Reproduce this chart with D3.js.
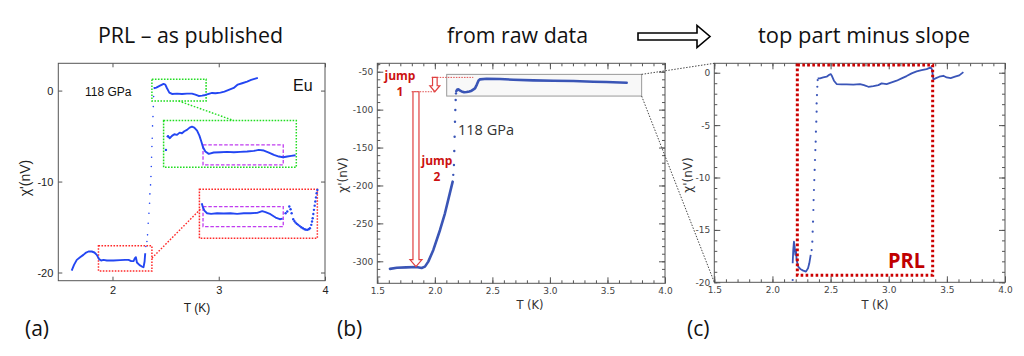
<!DOCTYPE html>
<html><head><meta charset="utf-8">
<script src="https://cdn.jsdelivr.net/npm/d3@7"></script>
<style>body{margin:0;background:#fff}svg{display:block}</style>
</head><body>
<script>
// ---------------- DATA ----------------
// Panel (a): PRL as published  [T (K), chi' (nV)]
const aLow = [[1.616,-19.78],[1.638,-19.16],[1.664,-18.61],[1.695,-18.32],[1.726,-18.06],[1.752,-17.80],[1.774,-17.69],[1.805,-17.69],[1.830,-17.80],[1.852,-18.06],[1.874,-18.53],[1.893,-18.68],[1.915,-18.61],[1.947,-18.68],[2.009,-18.68],[2.072,-18.64],[2.119,-18.61],[2.151,-18.61],[2.176,-18.75],[2.198,-18.75],[2.211,-18.42],[2.220,-18.32],[2.230,-18.90],[2.255,-19.19],[2.277,-19.34],[2.292,-19.41],[2.302,-18.79],[2.308,-17.88]];
const aJump = [[2.314,-17.14],[2.324,-16.59],[2.330,-15.86],[2.336,-14.58],[2.343,-13.48],[2.349,-12.38],[2.352,-11.36],[2.358,-10.37],[2.362,-9.45],[2.365,-8.35],[2.368,-7.33],[2.371,-6.15],[2.374,-5.24],[2.377,-3.88],[2.381,-2.86],[2.384,-1.76],[2.387,-0.66]];
const aHigh = [[2.387,0.26],[2.412,0.33],[2.443,0.51],[2.481,0.73],[2.497,0.66],[2.513,0.26],[2.535,-0.22],[2.560,-0.37],[2.607,-0.33],[2.654,-0.37],[2.701,-0.33],[2.748,-0.33],[2.780,-0.44],[2.811,-0.59],[2.843,-0.55],[2.874,-0.48],[2.906,-0.37],[2.937,-0.26],[2.969,-0.29],[3.016,-0.22],[3.053,-0.11],[3.094,0.07],[3.141,0.29],[3.179,0.66],[3.220,0.81],[3.267,0.99],[3.305,1.17],[3.336,1.28],[3.368,1.39]];
const aInsetGreen = [[2.513,-5.13],[2.522,-4.98],[2.538,-5.24],[2.560,-4.98],[2.582,-4.80],[2.607,-4.87],[2.632,-4.62],[2.654,-4.69],[2.676,-4.47],[2.701,-4.32],[2.726,-4.07],[2.748,-3.96],[2.770,-4.07],[2.796,-4.40],[2.818,-4.95],[2.836,-5.60],[2.852,-6.23],[2.874,-6.70],[2.906,-6.96],[2.953,-6.81],[3.016,-6.78],[3.079,-6.74],[3.142,-6.78],[3.204,-6.74],[3.267,-6.70],[3.330,-6.63],[3.377,-6.52],[3.425,-6.59],[3.472,-6.81],[3.519,-7.07],[3.566,-7.25],[3.607,-7.33],[3.645,-7.25],[3.682,-7.18],[3.723,-7.11]];
const aInsetGreenDots = [[2.503,-6.52]];
const aInsetRed = [[2.840,-12.38],[2.849,-12.75],[2.865,-13.19],[2.890,-13.48],[2.928,-13.55],[2.984,-13.48],[3.047,-13.52],[3.110,-13.48],[3.173,-13.55],[3.236,-13.48],[3.299,-13.48],[3.362,-13.44],[3.409,-13.26],[3.440,-13.37],[3.487,-13.59],[3.535,-13.96],[3.575,-14.14],[3.601,-14.07]];
const aInsetRedDots = [[3.629,-13.48],[3.645,-13.30],[3.664,-12.75],[3.676,-13.04],[3.686,-13.48],[3.701,-14.14],[3.712,-14.35],[3.723,-14.51],[3.735,-14.65],[3.748,-14.76],[3.762,-14.90],[3.777,-15.02],[3.792,-15.13],[3.808,-15.24],[3.820,-15.29],[3.833,-15.31],[3.846,-15.24],[3.858,-15.13],[3.871,-14.76],[3.878,-14.40],[3.884,-14.03],[3.890,-13.57],[3.896,-13.11],[3.903,-12.65],[3.909,-12.20],[3.915,-11.74],[3.921,-11.28],[3.928,-10.92]];
// boxes in (a): [T0, T1, chiTop, chiBottom]
const aBoxesGreen = [[2.371,2.881,1.25,-1.14],[2.481,3.730,-3.30,-8.42]];
const aBoxesRed = [[1.868,2.371,-17.07,-19.82],[2.818,3.928,-10.84,-16.23]];
const aBoxesMagenta = [[2.852,3.607,-5.97,-8.17],[2.852,3.607,-12.75,-14.95]];
const aLinkGreen = [[2.623,-1.14],[3.142,-3.30]];
const aLinkRed = [[2.371,-18.42],[2.827,-13.04]];
const aXTicks = [2,3,4];
const aYTicks = [0,-10,-20];

// Panel (b): raw data
const bLow = [[1.61,-310],[1.67,-308.5],[1.75,-308],[1.84,-307.5],[1.885,-308.8],[1.914,-307],[1.943,-300.4],[1.987,-285],[2.045,-258.7],[2.088,-236.7],[2.13,-210.4],[2.155,-195]];
const bJump = [[2.16,-186],[2.166,-173],[2.169,-154.6],[2.172,-135.7],[2.175,-115.9],[2.178,-100.5],[2.181,-87.3],[2.184,-78.6]];
const bHigh = [[2.187,-75.5],[2.195,-73.5],[2.204,-73.3],[2.22,-75],[2.233,-76],[2.255,-77],[2.276,-76.8],[2.30,-76],[2.32,-75],[2.349,-72],[2.365,-67],[2.38,-61.5],[2.392,-60.1],[2.45,-59.2],[2.566,-59.7],[2.682,-60.5],[2.856,-61.4],[3.03,-61.9],[3.203,-62.3],[3.377,-63.2],[3.49,-63.6],[3.667,-64.5]];
const bZoomBox = [2.103,3.797,-53.5,-82.1];
const bJump1Levels = [-57.5,-76.4];
const bJump2Bottom = -307;
const bXTicks = [1.5,2.0,2.5,3.0,3.5,4.0];
const bYTicks = [-50,-100,-150,-200,-250,-300];

// Panel (c): top part minus slope
const cLow = [[2.174,-18.19],[2.179,-16.92],[2.185,-16.12],[2.191,-16.60],[2.197,-17.39],[2.202,-16.92],[2.208,-17.87],[2.222,-18.51],[2.243,-18.76],[2.265,-18.89],[2.288,-18.98],[2.306,-18.66],[2.317,-18.19],[2.329,-17.39]];
const cJump = [[2.174,-19.78],[2.337,-16.92],[2.343,-16.12],[2.346,-15.17],[2.349,-14.21],[2.352,-13.10],[2.354,-12.15],[2.357,-11.19],[2.360,-10.24],[2.363,-9.28],[2.366,-8.33],[2.369,-7.38],[2.372,-6.58],[2.374,-5.63],[2.377,-4.67],[2.380,-3.72],[2.380,-2.93],[2.383,-2.13],[2.386,-1.34],[2.389,-0.70]];
const cHigh = [[2.389,-0.54],[2.409,-0.54],[2.437,-0.45],[2.466,-0.38],[2.489,-0.19],[2.501,-0.13],[2.512,-0.32],[2.529,-0.76],[2.552,-1.08],[2.595,-1.11],[2.638,-1.11],[2.696,-1.14],[2.753,-1.08],[2.787,-1.18],[2.825,-1.34],[2.868,-1.27],[2.911,-1.18],[2.939,-1.02],[2.982,-1.08],[3.025,-0.92],[3.068,-0.76],[3.111,-0.54],[3.154,-0.32],[3.197,-0.06],[3.240,0.13],[3.283,0.25],[3.326,0.35],[3.361,0.51],[3.372,0.32],[3.384,-0.64],[3.407,-0.51],[3.435,-0.38],[3.470,-0.29],[3.498,-0.45],[3.533,-0.51],[3.570,-0.38],[3.607,-0.25],[3.642,0.06]];
const cPrlBox = [2.214,3.378,0.73,-19.33];
const cXTicks = [1.5,2.0,2.5,3.0,3.5,4.0];
const cYTicks = [0,-5,-10,-15,-20];

const titles = ["PRL – as published","from raw data","top part minus slope"];
const panelLabels = ["(a)","(b)","(c)"];

// ---------------- DRAW ----------------
const svg = d3.select("body").append("svg").attr("width",1024).attr("height",356);
svg.append("rect").attr("width",1024).attr("height",356).attr("fill","#fff");
const TF = "'Open Sans','Noto Sans',sans-serif";

// Titles
const titleSpec = [[98,185],[447,141],[758,212]];
titles.forEach((t,i)=>{
  svg.append("text").attr("x",titleSpec[i][0]).attr("y",43).attr("font-family",TF).attr("font-size",21)
    .attr("textLength",titleSpec[i][1]).attr("lengthAdjust","spacingAndGlyphs").attr("fill","#111").text(t);
});
// hollow title arrow
svg.append("path").attr("d","M638,33 L697,33 L697,25.5 L710,36.5 L697,47.5 L697,40 L638,40 Z")
  .attr("fill","#fff").attr("stroke","#000").attr("stroke-width",1.6);
// panel letters
[[25,panelLabels[0]],[337,panelLabels[1]],[687,panelLabels[2]]].forEach(([x,t])=>{
  svg.append("text").attr("x",x).attr("y",336).attr("font-family",TF).attr("font-size",21).attr("fill","#111").text(t);
});

function line(x,y){return d3.line().x(d=>x(d[0])).y(d=>y(d[1]));}

// ===== Panel A =====
const xA = d3.scaleLinear([1.49,4.0],[58.3,325]);
const yA = d3.scaleLinear([-20.9,3.0],[280.7,63.3]);
const gA = svg.append("g");
const AF = "'Liberation Sans',Arial,sans-serif";
function styleAxisA(g){g.select(".domain").remove();g.selectAll("line").attr("stroke","#555");g.selectAll("text").attr("font-family",AF).attr("font-size",11).attr("fill","#222");}
gA.append("g").attr("transform","translate(0,280.7)").call(d3.axisBottom(xA).tickValues(aXTicks).tickFormat(d3.format("d")).tickSizeInner(-4).tickSizeOuter(0).tickPadding(6)).call(styleAxisA);
gA.append("g").attr("transform","translate(0,63.3)").call(d3.axisTop(xA).tickValues(aXTicks).tickFormat("").tickSizeInner(-4).tickSizeOuter(0)).call(styleAxisA);
gA.append("g").attr("transform","translate(58.3,0)").call(d3.axisLeft(yA).tickValues(aYTicks).tickFormat(d=>String(d)).tickSizeInner(-4).tickSizeOuter(0).tickPadding(5)).call(styleAxisA);
gA.append("g").attr("transform","translate(325,0)").call(d3.axisRight(yA).tickValues(aYTicks).tickFormat("").tickSizeInner(-4).tickSizeOuter(0)).call(styleAxisA);
gA.append("rect").attr("x",58.3).attr("y",63.3).attr("width",325-58.3).attr("height",280.7-63.3).attr("fill","none").attr("stroke","#555").attr("stroke-width",1);
gA.append("text").attr("transform","translate(30,178) rotate(-90)").attr("text-anchor","middle").attr("font-family",AF).attr("font-size",14).attr("fill","#222").text("χ'(nV)");
gA.append("text").attr("x",197).attr("y",312).attr("text-anchor","middle").attr("font-family",AF).attr("font-size",12).attr("fill","#222").text("T (K)");
gA.append("text").attr("x",85).attr("y",96).attr("font-family",AF).attr("font-size",12).attr("fill","#111").text("118 GPa");
gA.append("text").attr("x",293).attr("y",91).attr("font-family",AF).attr("font-size",16).attr("fill","#111").text("Eu");
function box(g,x,y,b,color,dash,w){
  g.append("rect").attr("x",x(b[0])).attr("y",y(b[2])).attr("width",x(b[1])-x(b[0])).attr("height",y(b[3])-y(b[2]))
   .attr("fill","none").attr("stroke",color).attr("stroke-width",w).attr("stroke-dasharray",dash);
}
aBoxesGreen.forEach(b=>box(gA,xA,yA,b,"#22dd22","1.6,1.4",1.5));
aBoxesRed.forEach(b=>box(gA,xA,yA,b,"#ff2a2a","1.6,1.4",1.5));
aBoxesMagenta.forEach(b=>box(gA,xA,yA,b,"#c03cf0","3.5,1.8",1.3));
gA.append("path").attr("d",line(xA,yA)(aLinkGreen)).attr("stroke","#22dd22").attr("stroke-width",1.4).attr("stroke-dasharray","1.6,1.6").attr("fill","none");
gA.append("path").attr("d",line(xA,yA)(aLinkRed)).attr("stroke","#ff2a2a").attr("stroke-width",1.4).attr("stroke-dasharray","1.6,1.6").attr("fill","none");
const blueA = "#2346f2";
[aLow,aHigh,aInsetGreen,aInsetRed].forEach(s=>gA.append("path").attr("d",line(xA,yA)(s)).attr("stroke",blueA).attr("stroke-width",1.9).attr("fill","none").attr("stroke-linejoin","round"));
gA.selectAll(".ja").data(aJump).join("circle").attr("cx",d=>xA(d[0])).attr("cy",d=>yA(d[1])).attr("r",0.8).attr("fill",blueA);
gA.selectAll(".jg").data(aInsetGreenDots.concat(aInsetRedDots)).join("circle").attr("cx",d=>xA(d[0])).attr("cy",d=>yA(d[1])).attr("r",1.2).attr("fill",blueA);

// ===== Panel B / C common igor-like axes =====
const VF = "'DejaVu Sans',Verdana,sans-serif";
function igorAxes(g,x,y,xt,yt,xMinorStep,yMinorStep,yfmt){
  const [x0,x1]=x.range(), [yb,yt0]=y.range();
  const xd=x.domain(), yd=y.domain();
  const xMinor=d3.range(Math.ceil(xd[0]/xMinorStep-1e-6)*xMinorStep, xd[1]+1e-6, xMinorStep);
  const yMinor=d3.range(Math.ceil(yd[0]/yMinorStep-1e-6)*yMinorStep, yd[1]+1e-6, yMinorStep);
  const st = s=>{s.select(".domain").remove();s.selectAll("line").attr("stroke","#555");s.selectAll("text").attr("font-family",VF).attr("font-size",9).attr("fill","#444");};
  g.append("g").attr("transform",`translate(0,${yb})`).call(d3.axisBottom(x).tickValues(xMinor).tickFormat("").tickSizeInner(-3).tickSizeOuter(0)).call(st);
  g.append("g").attr("transform",`translate(0,${yt0})`).call(d3.axisTop(x).tickValues(xMinor).tickFormat("").tickSizeInner(-3).tickSizeOuter(0)).call(st);
  g.append("g").attr("transform",`translate(${x0},0)`).call(d3.axisLeft(y).tickValues(yMinor).tickFormat("").tickSizeInner(-3).tickSizeOuter(0)).call(st);
  g.append("g").attr("transform",`translate(${x1},0)`).call(d3.axisRight(y).tickValues(yMinor).tickFormat("").tickSizeInner(-3).tickSizeOuter(0)).call(st);
  g.append("g").attr("transform",`translate(0,${yb})`).call(d3.axisBottom(x).tickValues(xt).tickFormat(d3.format(".1f")).tickSizeInner(-6).tickSizeOuter(0).tickPadding(4)).call(st);
  g.append("g").attr("transform",`translate(0,${yt0})`).call(d3.axisTop(x).tickValues(xt).tickFormat("").tickSizeInner(-6).tickSizeOuter(0)).call(st);
  g.append("g").attr("transform",`translate(${x0},0)`).call(d3.axisLeft(y).tickValues(yt).tickFormat(yfmt).tickSizeInner(-6).tickSizeOuter(0).tickPadding(4)).call(st);
  g.append("g").attr("transform",`translate(${x1},0)`).call(d3.axisRight(y).tickValues(yt).tickFormat("").tickSizeInner(-6).tickSizeOuter(0)).call(st);
  g.append("rect").attr("x",x0).attr("y",yt0).attr("width",x1-x0).attr("height",yb-yt0).attr("fill","none").attr("stroke","#555").attr("stroke-width",1);
}

// ===== Panel B =====
const xB = d3.scaleLinear([1.5,4.0],[377.3,665]);
const yB = d3.scaleLinear([-329,-38.9],[283.3,63.3]);
const gB = svg.append("g");
igorAxes(gB,xB,yB,bXTicks,bYTicks,0.1,10,d=>String(d));
gB.append("text").attr("transform","translate(347,175) rotate(-90)").attr("text-anchor","middle").attr("font-family",VF).attr("font-size",12).attr("fill","#333").text("χ'(nV)");
gB.append("text").attr("x",530).attr("y",309).attr("text-anchor","middle").attr("font-family",VF).attr("font-size",11.5).attr("fill","#333").text("T (K)");
gB.append("rect").attr("x",xB(bZoomBox[0])).attr("y",yB(bZoomBox[2])).attr("width",xB(bZoomBox[1])-xB(bZoomBox[0])).attr("height",yB(bZoomBox[3])-yB(bZoomBox[2]))
  .attr("fill","#ececec").attr("fill-opacity",0.35).attr("stroke","#999").attr("stroke-width",1);
const blueB = "#3a55b6";
[bLow,bHigh].forEach(s=>gB.append("path").attr("d",line(xB,yB)(s)).attr("stroke",blueB).attr("stroke-width",2.6).attr("fill","none").attr("stroke-linejoin","round").attr("stroke-linecap","round"));
gB.selectAll(".jb").data(bJump).join("circle").attr("cx",d=>xB(d[0])).attr("cy",d=>yB(d[1])).attr("r",1.2).attr("fill",blueB);
gB.append("text").attr("x",458).attr("y",135).attr("font-family",TF).attr("font-size",14.5).attr("fill","#333").text("118 GPa");
// jump annotations
const red = "#cc1111";
function hollowDown(x,y1,y2,sw,hw,hh){
  return `M${x-sw/2},${y1} L${x+sw/2},${y1} L${x+sw/2},${y2-hh} L${x+hw/2},${y2-hh} L${x},${y2} L${x-hw/2},${y2-hh} L${x-sw/2},${y2-hh} Z`;
}
gB.append("line").attr("x1",xB(1.972)).attr("x2",xB(2.334)).attr("y1",yB(bJump1Levels[0])).attr("y2",yB(bJump1Levels[0])).attr("stroke","#e05050").attr("stroke-width",1).attr("stroke-dasharray","1.5,1.2");
gB.append("line").attr("x1",xB(1.798)).attr("x2",xB(2.0)).attr("y1",yB(bJump1Levels[1])).attr("y2",yB(bJump1Levels[1])).attr("stroke","#e05050").attr("stroke-width",1).attr("stroke-dasharray","1.5,1.2");
gB.append("path").attr("d",hollowDown(xB(2.0),yB(bJump1Levels[0]),yB(bJump1Levels[1]),4.6,10,6)).attr("fill","#fff").attr("stroke","#e04040").attr("stroke-width",1.2);
gB.append("path").attr("d",hollowDown(xB(1.836),yB(bJump1Levels[1]),yB(bJump2Bottom),6,12,7)).attr("fill","#fff").attr("stroke","#e04040").attr("stroke-width",1.2);
const jf = s=>s.attr("font-family",TF).attr("font-size",12).attr("font-weight","bold").attr("fill",red).attr("text-anchor","middle");
gB.append("text").attr("x",400).attr("y",80).text("jump").call(jf);
gB.append("text").attr("x",400).attr("y",96).text("1").call(jf);
gB.append("text").attr("x",437).attr("y",165).text("jump").call(jf);
gB.append("text").attr("x",437).attr("y",181).text("2").call(jf);

// ===== Panel C =====
const xC = d3.scaleLinear([1.5,4.0],[714.3,1005]);
const yC = d3.scaleLinear([-20,0.9],[282.3,63.3]);
const gC = svg.append("g");
igorAxes(gC,xC,yC,cXTicks,cYTicks,0.1,1,d=>String(d));
gC.append("text").attr("transform","translate(692,175) rotate(-90)").attr("text-anchor","middle").attr("font-family",VF).attr("font-size",12).attr("fill","#333").text("χ'(nV)");
gC.append("text").attr("x",875).attr("y",309).attr("text-anchor","middle").attr("font-family",VF).attr("font-size",11.5).attr("fill","#333").text("T (K)");
const blueC = "#3a55b8";
[cLow,cHigh].forEach(s=>gC.append("path").attr("d",line(xC,yC)(s)).attr("stroke",blueC).attr("stroke-width",1.8).attr("fill","none").attr("stroke-linejoin","round"));
gC.selectAll(".jc").data(cJump).join("circle").attr("cx",d=>xC(d[0])).attr("cy",d=>yC(d[1])).attr("r",1.1).attr("fill",blueC);
gC.append("rect").attr("x",xC(cPrlBox[0])).attr("y",yC(cPrlBox[2])).attr("width",xC(cPrlBox[1])-xC(cPrlBox[0])).attr("height",yC(cPrlBox[3])-yC(cPrlBox[2]))
  .attr("fill","none").attr("stroke","#cc0000").attr("stroke-width",3).attr("stroke-dasharray","2.6,2.4");
gC.append("text").attr("x",888).attr("y",268).attr("font-family",TF).attr("font-size",21).attr("font-weight","bold").attr("fill","#c00000").attr("textLength",37).attr("lengthAdjust","spacingAndGlyphs").text("PRL");

// connector lines from (b) box to (c)
const conn = s=>s.attr("stroke","#333").attr("stroke-width",0.9).attr("stroke-dasharray","1.5,1.5");
svg.append("line").attr("x1",xB(bZoomBox[1])).attr("y1",yB(bZoomBox[2])).attr("x2",xC.range()[0]).attr("y2",yC.range()[1]).call(conn);
svg.append("line").attr("x1",xB(bZoomBox[1])).attr("y1",yB(bZoomBox[3])).attr("x2",xC.range()[0]).attr("y2",yC.range()[0]).call(conn);
</script>
</body></html>
